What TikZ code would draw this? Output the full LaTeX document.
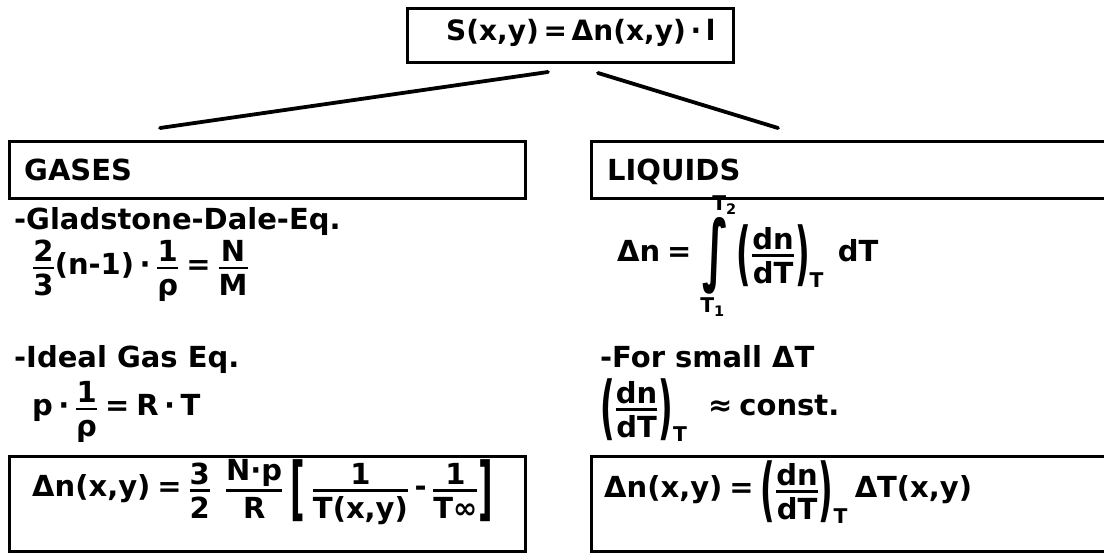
\documentclass[tikz,border=0pt]{standalone}
\usepackage{amsmath}
\usepackage{graphicx}
\usepackage{fontspec}
\setmainfont{DejaVu Sans}
\newcommand{\tx}[1]{\text{#1}}
\newcommand{\fr}[2]{\genfrac{}{}{2.6pt}{1}{\textstyle\tx{\rule[-2.5pt]{0pt}{0pt}#1}}{\textstyle\tx{\rule{0pt}{24pt}#2}}}
\newcommand{\opn}[2][2.4]{\mathopen{\vcenter{\hbox{\scalebox{1.1}[#1]{#2}}}}}
\newcommand{\cls}[2][2.4]{\mathclose{\vcenter{\hbox{\scalebox{1.1}[#1]{#2}}}}}
\newcommand{\eqs}{\mathrel{\tx{=}}}
\newcommand{\dt}{\mathbin{\tx{·}}}
\begin{document}
\begin{tikzpicture}[x=1pt,y=-1pt,
  font=\fontsize{29}{34}\selectfont\bfseries,
  box/.style={draw, line width=3pt, inner sep=0pt},
  conn/.style={line width=3.8pt, line cap=round},
  txt/.style={inner sep=0pt, anchor=base west},
  eq/.style={inner sep=0pt, anchor=west}]
\useasboundingbox (0,0) rectangle (1104,553);
% top
\node[box, anchor=north west, minimum width=326pt, minimum height=54pt] (top) at (406,7) {};
\node[txt, font=\fontsize{28}{34}\selectfont\bfseries] (toptxt) at (446,41) {S(x,y)\,=\,Δn(x,y)\,·\,l};
% connectors
\coordinate (la) at (548,72);
\coordinate (lb) at (160,128);
\coordinate (ra) at (598,73);
\coordinate (rb) at (778,128);
\draw[conn] (la) -- (lb);
\draw[conn] (ra) -- (rb);
% category boxes
\node[box, anchor=north west, minimum width=516pt, minimum height=57pt] (gases) at (8,140) {};
\node[txt] (gasestxt) at (24,181) {GASES};
\node[box, anchor=north west, minimum width=560pt, minimum height=57pt] (liquids) at (590,140) {};
\node[txt] (liquidstxt) at (607,181) {LIQUIDS};
% gases column
\node[txt] (gd) at (14,230) {-Gladstone-Dale-Eq.};
\node[eq] (gdeq) at (32,271) {$\fr{2}{3}\tx{(n-1)}\dt\fr{1}{ρ}\eqs\fr{N}{M}$};
\node[txt] (ig) at (14,368) {-Ideal Gas Eq.};
\node[eq] (igeq) at (32,412) {$\tx{p}\dt\fr{1}{ρ}\eqs\tx{R}\dt\tx{T}$};
\node[box, anchor=north west, minimum width=516pt, minimum height=95pt] (gasres) at (8,455) {};
\node[eq] (gasreseq) at (32,492) {$\tx{Δn(x,y)}\eqs\fr{3}{2}\;\;\fr{N·p}{R}\;\opn{[}\;\fr{1}{T(x,y)}\mathbin{\tx{-}}\fr{1}{T∞}\cls{]}$};
% liquids column
\node[eq] (inteq) at (617,258) {$\tx{Δn}\eqs\!\mathop{\vcenter{\hbox{\scalebox{1.5}[2.7]{∫}}}}\limits^{\kern18pt\raisebox{-5pt}{$\scriptstyle\tx{T}_{\tx{2}}$}}_{\raisebox{7pt}{$\scriptstyle\tx{T}_{\tx{1}}$}\kern6pt}\opn{(}\fr{dn}{dT}\cls{)}_{\tx{T}}\;\;\tx{dT}$};
\node[txt] (fs) at (600,368) {-For small ΔT};
\node[eq] (fseq) at (600,410) {$\opn{(}\fr{dn}{dT}\cls{)}_{\tx{T}}\;\;\mathrel{\tx{≈}}\tx{const.}$};
\node[box, anchor=north west, minimum width=560pt, minimum height=95pt] (liqres) at (590,455) {};
\node[eq] (liqreseq) at (604,492) {$\tx{Δn(x,y)}\eqs\opn{(}\fr{dn}{dT}\cls{)}_{\tx{T}}\;\tx{ΔT(x,y)}$};
\end{tikzpicture}
\end{document}
